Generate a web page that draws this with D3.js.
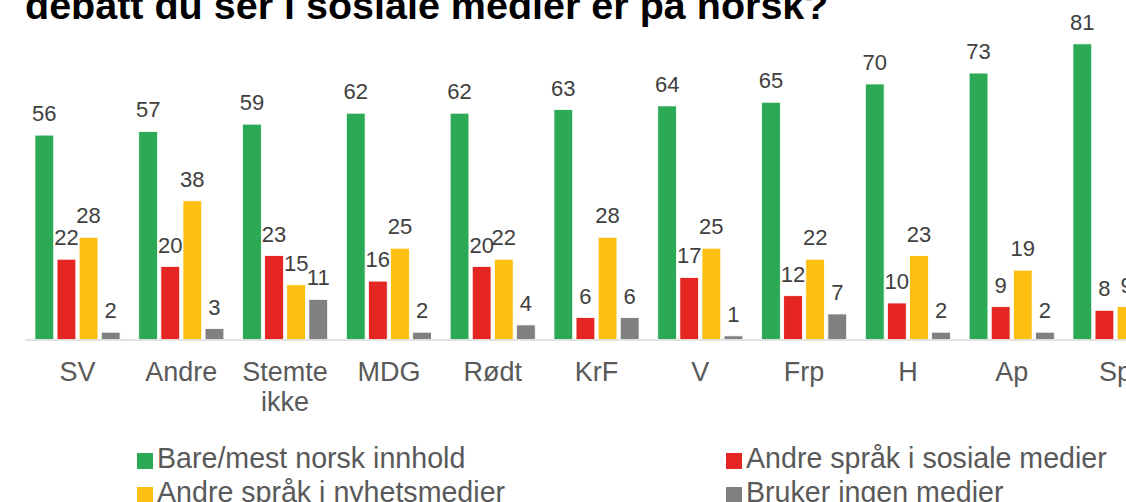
<!DOCTYPE html>
<html>
<head>
<meta charset="utf-8">
<script src="https://cdn.jsdelivr.net/npm/d3@7"></script>
<style>
  body { margin: 0; background: #fff; }
  svg { display: block; font-family: "Liberation Sans", Arial, sans-serif; }
</style>
</head>
<body>
<div id="chart"></div>
<script>
'use strict'

const titleLine = 'debatt du ser i sosiale medier er på norsk?'

const categories = ['SV', 'Andre', 'Stemte ikke', 'MDG', 'Rødt', 'KrF', 'V', 'Frp', 'H', 'Ap', 'Sp']
const seriesNames = ['Bare/mest norsk innhold', 'Andre språk i sosiale medier', 'Andre språk i nyhetsmedier', 'Bruker ingen medier']
const norsk = [56, 57, 59, 62, 62, 63, 64, 65, 70, 73, 81]
const sosiale = [22, 20, 23, 16, 20, 6, 17, 12, 10, 9, 8]
const nyhet = [28, 38, 15, 25, 22, 28, 25, 22, 23, 19, 9]
const ingen = [2, 3, 11, 2, 4, 6, 1, 7, 2, 2, 2]
const colors = ['#2ca954', '#e42521', '#fcbf12', '#808080']

const width = 1126,
		height = 502

const baseY = 339.5

const svg = d3.select('#chart').append('svg')
	.attr('width', width)
	.attr('height', height)

// title (only its last line is inside the picture)
svg.append('text')
	.attr('x', 25)
	.attr('y', 19)
	.attr('font-size', 39.5)
	.attr('font-weight', 'bold')
	.attr('fill', '#000')
	.text(titleLine)

const rows = categories.map((c, i) => ({
	cat: c,
	values: [norsk[i], sosiale[i], nyhet[i], ingen[i]]
}))

const x0 = d3.scaleBand()
	.domain(categories)
	.range([25.6, 25.6 + categories.length * 103.8])
	.paddingInner(0.18)
	.paddingOuter(0.09)

const x1 = d3.scaleBand()
	.domain(d3.range(seriesNames.length))
	.range([0, x0.bandwidth()])
	.paddingInner(0.15)

const y = d3.scaleLinear()
	.domain([0, 100])
	.range([baseY, baseY - 365])

const group = svg.append('g')
	.selectAll('g')
	.data(rows)
	.enter().append('g')
	.attr('transform', d => 'translate(' + x0(d.cat) + ',0)')

group.selectAll('rect')
	.data(d => d.values)
	.enter().append('rect')
	.attr('x', (d, i) => x1(i))
	.attr('y', d => y(d))
	.attr('width', x1.bandwidth())
	.attr('height', d => baseY - y(d))
	.attr('fill', (d, i) => colors[i])
	.attr('stroke', '#fff')
	.attr('stroke-width', 0.8)

group.selectAll('text.val')
	.data(d => d.values)
	.enter().append('text')
	.attr('class', 'val')
	.attr('x', (d, i) => x1(i) + x1.bandwidth() / 2)
	.attr('y', d => y(d) - 14)
	.attr('text-anchor', 'middle')
	.attr('font-size', 22)
	.attr('fill', '#404040')
	.text(d => d)

// baseline
svg.append('line')
	.attr('x1', 25)
	.attr('x2', width)
	.attr('y1', baseY + 0.5)
	.attr('y2', baseY + 0.5)
	.attr('stroke', '#d9d9d9')
	.attr('stroke-width', 1.5)

// category labels
const xAxis = svg.append('g')
	.attr('transform', 'translate(0,' + baseY + ')')
	.call(d3.axisBottom(x0).tickSize(0).tickPadding(0))
xAxis.select('.domain').remove()
xAxis.selectAll('.tick text').remove()
xAxis.selectAll('.tick').append('text')
	.attr('text-anchor', 'middle')
	.attr('font-size', 27)
	.attr('fill', '#595959')
	.attr('font-family', '"Liberation Sans", Arial, sans-serif')
	.each(function(d) {
		const words = d.split(' ')
		const t = d3.select(this)
		words.forEach((w, i) => {
			t.append('tspan')
				.attr('x', 0)
				.attr('y', 41 + i * 30)
				.text(w)
		})
	})

// legend
const legendPos = [[137, 468], [726, 468], [137, 502], [726, 502]]
const legend = svg.append('g')
	.selectAll('g')
	.data(seriesNames)
	.enter().append('g')
	.attr('transform', (d, i) => 'translate(' + legendPos[i][0] + ',' + legendPos[i][1] + ')')

legend.append('rect')
	.attr('x', 0)
	.attr('y', -15)
	.attr('width', 16)
	.attr('height', 16)
	.attr('fill', (d, i) => colors[i])

legend.append('text')
	.attr('x', 20)
	.attr('y', 0)
	.attr('font-size', 28.6)
	.attr('fill', '#595959')
	.text(d => d)
</script>
</body>
</html>
